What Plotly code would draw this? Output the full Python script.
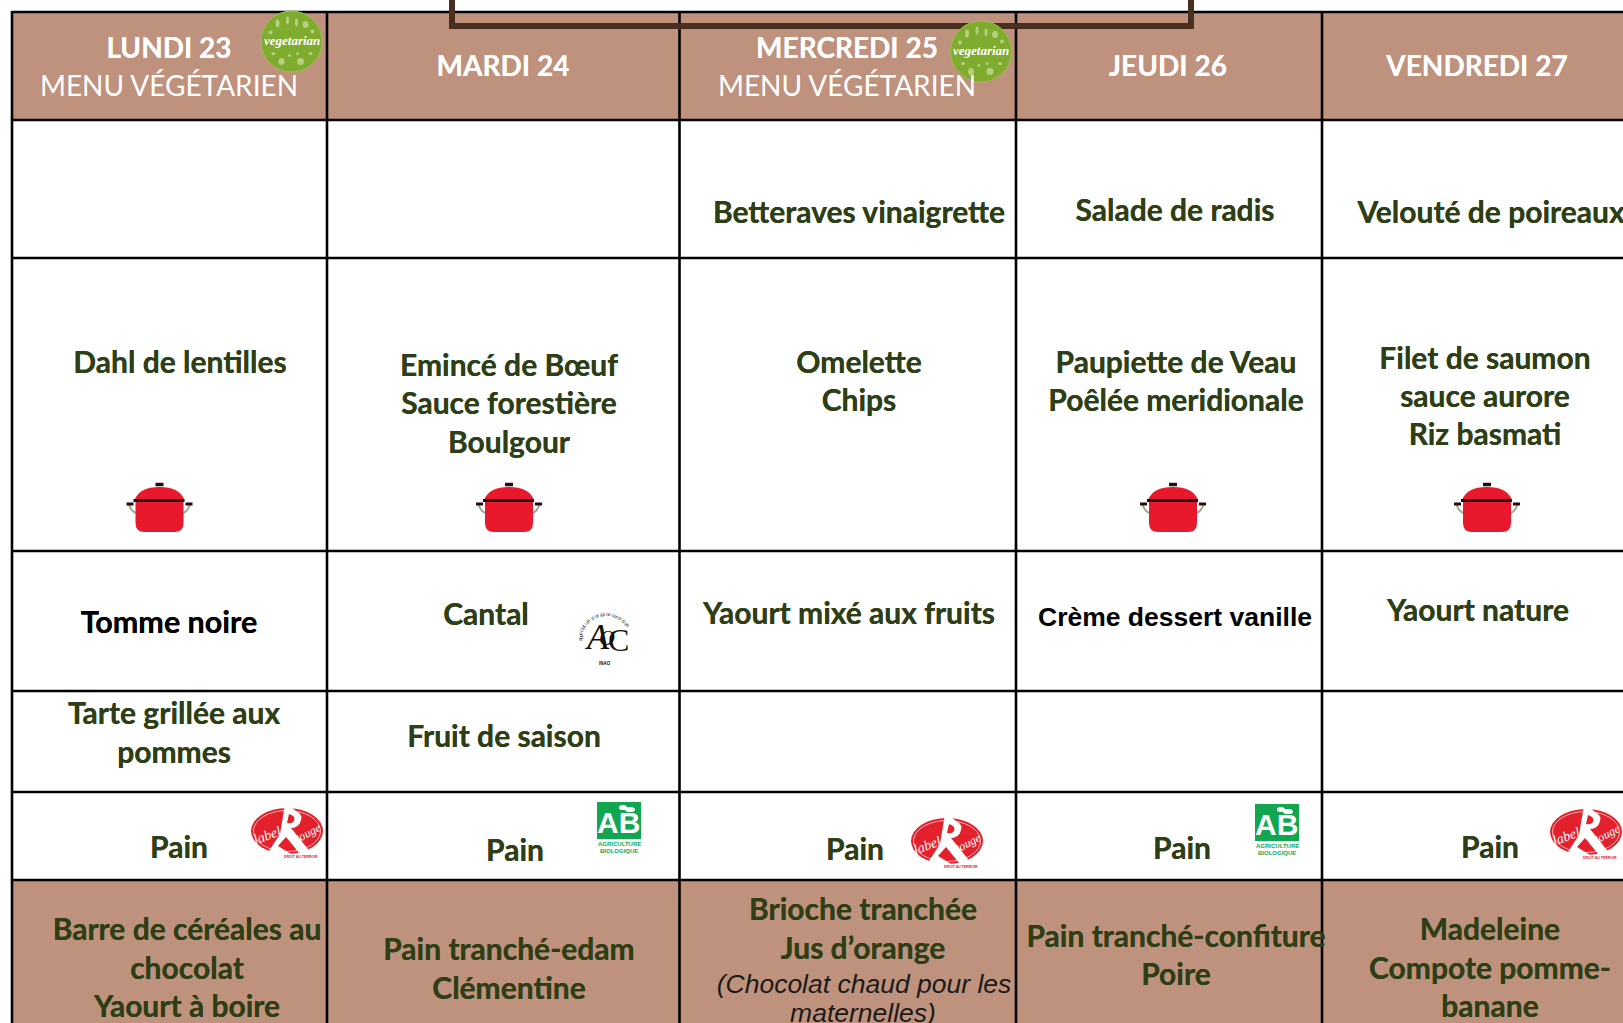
import math
import plotly.graph_objects as go

# ---------- texts ----------
day_labels = ["LUNDI 23", "MARDI 24", "MERCREDI 25", "JEUDI 26", "VENDREDI 27"]
day_x = [169, 503, 847, 1168, 1477]
day_y = [51, 69, 51, 69, 69]
sub_labels = ["MENU VÉGÉTARIEN", "MENU VÉGÉTARIEN"]
sub_x = [169, 847]
sub_y = [89, 89]

dish_labels = [
    "Betteraves vinaigrette", "Salade de radis", "Velouté de poireaux",
    "Dahl de lentilles", "Eminc\u00e9 de B\u0153uf", "Sauce foresti\u00e8re", "Boulgour",
    "Omelette", "Chips", "Paupiette de Veau", "Po\u00eal\u00e9e meridionale",
    "Filet de saumon", "sauce aurore", "Riz basmati",
    "Cantal", "Yaourt mix\u00e9 aux fruits", "Yaourt nature",
    "Tarte grill\u00e9e aux", "pommes", "Fruit de saison",
    "Pain", "Pain", "Pain", "Pain", "Pain",
    "Barre de c\u00e9r\u00e9ales au", "chocolat", "Yaourt \u00e0 boire",
    "Pain tranch\u00e9-edam", "Cl\u00e9mentine",
    "Brioche tranch\u00e9e", "Jus d\u2019orange",
    "Pain tranch\u00e9-confiture", "Poire",
    "Madeleine", "Compote pomme-", "banane",
]
dish_x = [
    859, 1175, 1491,
    180, 509, 509, 509,
    859, 859, 1176, 1176,
    1485, 1485, 1485,
    486, 849, 1478,
    174, 174, 504,
    179, 515, 855, 1182, 1490,
    187, 187, 187,
    509, 509,
    863, 863,
    1176, 1176,
    1490, 1490, 1490,
]
dish_y = [
    215, 213, 215,
    365, 368, 406, 445,
    365, 403, 365, 403,
    361, 399, 437,
    617, 616, 613,
    716, 755, 739,
    850, 853, 852, 851, 850,
    932, 971, 1009,
    952, 991,
    912, 951,
    939, 977,
    932, 971, 1009,
]

black_labels = ["Tomme noire"]
black_x = [169]
black_y = [625]
arial_labels = ["Cr\u00e8me dessert vanille"]
arial_x = [1175]
arial_y = [619]
italic_labels = ["(Chocolat chaud pour les", "maternelles)"]
italic_x = [864, 863]
italic_y = [986, 1015]

# ---------- geometry of the page ----------
col_lines = [12, 327, 679.5, 1016, 1322]
row_lines = [12, 120, 258, 551, 691, 792, 880]
W, H = 1623, 1023
HEAD = "#BF927D"
INK = "#2E3F17"
BROWN = "#4A2E20"

pot_x = [159.5, 509, 1173, 1487]
veg_centres = [(291.5, 41.5), (981, 51.5)]
rouge_centres = [(287, 831), (947, 841), (1586, 832)]
ab_centres = [(619, 820.5), (1277, 822.5)]
aoc_centre = (606, 636)

shapes = []


def rect(x0, y0, x1, y1, fill):
    shapes.append(dict(type="rect", xref="x", yref="y", x0=x0, y0=y0, x1=x1, y1=y1,
                       fillcolor=fill, line=dict(width=0), layer="below"))


def line(x0, y0, x1, y1, color="#000000", width=2.6):
    shapes.append(dict(type="line", xref="x", yref="y", x0=x0, y0=y0, x1=x1, y1=y1,
                       line=dict(color=color, width=width), layer="below"))


def path(d, fill, stroke=None, width=0):
    shapes.append(dict(type="path", xref="x", yref="y", path=d, fillcolor=fill,
                       line=dict(color=stroke or fill, width=width), layer="below"))


def ellipse(cx, cy, rx, ry, fill, stroke=None, width=0):
    shapes.append(dict(type="circle", xref="x", yref="y", x0=cx - rx, x1=cx + rx,
                       y0=cy - ry, y1=cy + ry, fillcolor=fill,
                       line=dict(color=stroke or fill, width=width), layer="below"))


rect(12, 12, W, 120, HEAD)
rect(12, 880, W, H, HEAD)
for y in row_lines:
    line(12, y, W, y)
for x in col_lines:
    line(x, 11, x, H)

# brown frame
line(452, 0, 452, 26, BROWN, 6)
line(449, 26, 1194, 26, BROWN, 6)
line(1191, 0, 1191, 26, BROWN, 6)

# pots
for cx in pot_x:
    path(f"M {cx-31},503 Q {cx-28},513 {cx-22},513", "rgba(0,0,0,0)", "#A3A892", 2)
    path(f"M {cx+31},503 Q {cx+28},513 {cx+22},513", "rgba(0,0,0,0)", "#A3A892", 2)
    path(f"M {cx-24},500 L {cx+24},500 L {cx+24},523 Q {cx+24},532 {cx+15},532 "
         f"L {cx-15},532 Q {cx-24},532 {cx-24},523 Z", "#E8192C")
    path(f"M {cx-25},500 Q {cx-20},487 {cx},487 Q {cx+20},487 {cx+25},500 Z", "#E8192C")
    line(cx - 26, 500.5, cx + 25, 500.5, "#2A0A10", 3)
    line(cx - 4, 484.5, cx + 4, 484.5, "#2A0A10", 3.5)
    line(cx - 33, 504, cx - 26, 504, "#2A0A10", 3)
    line(cx + 26, 504, cx + 33, 504, "#2A0A10", 3)

# vegetarian badges
for cx, cy in veg_centres:
    ellipse(cx, cy, 30.5, 30.5, "#7FAB2F", "#9CC04F", 1)
    for dx, dy, rx, ry in [(-14, -18, 2, 4), (-4, -21, 1.5, 4), (5, -19, 1.5, 4), (14, -17, 3, 3.5),
                           (-21, -9, 2, 2), (21, -10, 2, 2), (-18, 12, 2, 1.5), (-10, 20, 3, 3.5),
                           (-2, 14, 1.5, 1.5), (9, 20, 3.5, 3.5), (19, 12, 2, 1.5), (6, 12, 1.5, 1.5)]:
        ellipse(cx + dx, cy + dy, rx, ry, "#B7D07F")

# label rouge badges
for cx, cy in rouge_centres:
    ellipse(cx, cy, 36, 23, "#E3202C")
    ellipse(cx, cy, 33.5, 20.5, "rgba(0,0,0,0)", "#F6B5B5", 1)
    path(f"M {cx-2},{cy-27} L {cx+3},{cy-25} L {cx+9},{cy-20} Q {cx+17},{cy-17} {cx+13},{cy-8} "
         f"Q {cx+10},{cy-3} {cx+4},{cy-3} L {cx+25},{cy+23} L {cx+13},{cy+23} "
         f"L {cx-1},{cy+6} L {cx-9},{cy+15} L {cx+4},{cy+23} L {cx-20},{cy+23} "
         f"L {cx-7},{cy+3} Z", "#FFFFFF")
    path(f"M {cx+2},{cy-17} Q {cx+9},{cy-15} {cx+7},{cy-10} Q {cx+5},{cy-7} {cx},{cy-8} Z",
         "#E3202C")

# AB logos
for cx, cy in ab_centres:
    rect(cx - 22, cy - 18.5, cx + 22, cy + 18.5, "#12A650")
    ellipse(cx + 4, cy - 13, 4, 2.6, "#FFFFFF")
    ellipse(cx + 11, cy - 11, 5, 2.6, "#FFFFFF")

fig = go.Figure()


def text_trace(xs, ys, labels, family, size, color, weight="normal", style="normal", shadow="none"):
    fig.add_trace(go.Scatter(
        x=xs, y=ys, text=labels, mode="text", textposition="middle center",
        hoverinfo="skip", showlegend=False,
        textfont=dict(family=family, size=size, color=color, weight=weight, style=style, shadow=shadow),
    ))


text_trace(dish_x, dish_y, dish_labels, "Lato, sans-serif", 30, INK, weight=700, shadow=f"0 0 0.6px {INK}")
text_trace(day_x, day_y, day_labels, "Lato, sans-serif", 28, "#FFFFFF", weight=700, shadow="0 0 0.6px #FFFFFF")
text_trace(sub_x, sub_y, sub_labels, "Lato, sans-serif", 28, "#FFFFFF")
text_trace(black_x, black_y, black_labels, "Lato, sans-serif", 30.5, "#000000", weight=700, shadow="0 0 0.6px #000000")
text_trace(arial_x, arial_y, arial_labels, "Liberation Sans, sans-serif", 26.5, "#000000", weight=700)
text_trace(italic_x, italic_y, italic_labels, "Liberation Sans, sans-serif", 26.5, "#1A1A1A", style="italic")

# badge lettering
annos = []


def note(x, y, s, size, color, family="Liberation Sans", bold=False, italic=False, angle=0):
    t = s
    if bold:
        t = f"<b>{t}</b>"
    if italic:
        t = f"<i>{t}</i>"
    annos.append(dict(x=x, y=y, xref="x", yref="y", text=t, showarrow=False, textangle=angle,
                      font=dict(family=family, size=size, color=color),
                      xanchor="center", yanchor="middle"))


for cx, cy in veg_centres:
    note(cx, cy - 1, "vegetarian", 13, "#FFFFFF", "Liberation Serif", bold=True, italic=True)

for cx, cy in rouge_centres:
    note(cx - 20, cy + 4, "label", 14, "#FFFFFF", "Liberation Serif", italic=True, angle=-20)
    note(cx + 19, cy + 3, "Rouge", 12, "#FFFFFF", "Liberation Serif", italic=True, angle=-28)
    note(cx + 14, cy + 26, "DROIT AU TERROIR", 3.5, "#E3202C", bold=True)

for cx, cy in ab_centres:
    note(cx - 1, cy + 2, "AB", 30, "#FFFFFF", bold=True)
    note(cx, cy + 23, "AGRICULTURE", 6, "#12A650", bold=True)
    note(cx, cy + 30, "BIOLOGIQUE", 6, "#12A650", bold=True)

ax, ay = aoc_centre
note(ax - 9, ay + 1, "A", 36, "#111111", "Liberation Serif", italic=True)
note(ax + 1, ay + 1, "O", 22, "#111111", "Liberation Serif", italic=True)
note(ax + 12, ay + 4, "C", 32, "#111111", "Liberation Serif")
note(ax - 1, ay + 27, "INAO", 4.5, "#111111", bold=True)
arc_text = "appellation d'origine contr\u00f4l\u00e9e"
for i, ch in enumerate(arc_text):
    a = math.radians(-180 + i * (146 / (len(arc_text) - 1)))
    note(ax + 26 * math.cos(a), ay + 4 + 26 * math.sin(a), ch, 5, "#333333",
         angle=math.degrees(a) + 90)

fig.update_layout(
    width=W, height=H, margin=dict(l=0, r=0, t=0, b=0),
    paper_bgcolor="#FFFFFF", plot_bgcolor="#FFFFFF",
    xaxis=dict(range=[0, W], visible=False, fixedrange=True),
    yaxis=dict(range=[H, 0], visible=False, fixedrange=True),
    shapes=shapes, annotations=annos, showlegend=False,
)

fig.write_html("out.html", config=dict(displayModeBar=False),
               post_script="document.body.style.margin='0';document.body.style.overflow='hidden';")
